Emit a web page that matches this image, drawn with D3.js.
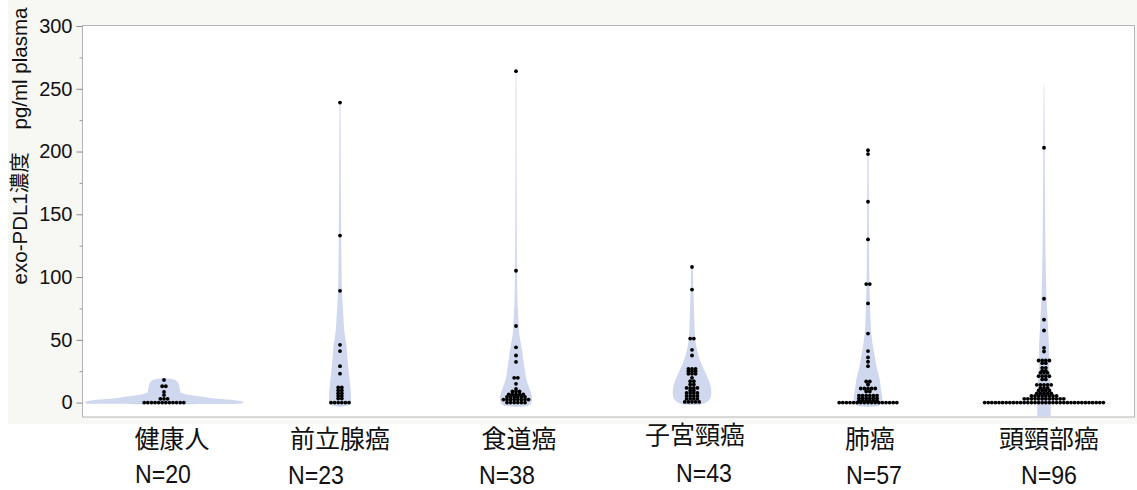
<!DOCTYPE html>
<html>
<head>
<meta charset="utf-8">
<script src="https://cdn.jsdelivr.net/npm/d3@7"></script>
<style>
  html, body { margin: 0; padding: 0; background: #ffffff; }
  svg { display: block; }
</style>
</head>
<body>
<svg id="chart" width="1137" height="490"></svg>
<script>
// Groups on the x axis
const categories = ["健康人", "前立腺癌", "食道癌", "子宮頸癌", "肺癌", "頭頸部癌"];
const yTicks = [0, 50, 100, 150, 200, 250, 300];
const yMinorTicks = [25, 75, 125, 175, 225, 275];

// exo-PDL1 concentration per subject (pg/ml plasma)
const healthy = [18, 13, 13, 8.5, 6, 3, 3, 3,
  0, 0, 0, 0, 0, 0, 0, 0, 0, 0, 0, 0];
const prostate = [239, 133, 89, 46, 41, 29, 23, 12, 12, 9.6, 9.6, 7.4, 7.4,
  5.3, 5.3, 3.2, 3.2, 0, 0, 0, 0, 0, 0];
const esophageal = [264, 105, 61, 44, 37.5, 32.4, 19.7, 19.7, 14.9, 10.9,
  8.8, 8.8, 8.8, 6.6, 6.6, 6.6, 6.6, 6.6, 4.5, 4.5, 4.5, 4.5, 4.5, 4.5,
  2.4, 2.4, 2.4, 2.4, 2.4, 2.4, 2.4, 2.4, 0, 0, 0, 0, 0, 0];
const cervical = [108, 90, 51, 51, 42, 37.5, 26.9, 26.9, 26.9, 25, 25, 25,
  22.9, 22.9, 22.9, 19.7, 17, 17, 14.4, 14.4, 11.7, 11.7, 11.7, 11.7,
  9.6, 9.6, 7.7, 7.7, 7.7, 7.7, 5.3, 5.3, 5.3, 5.3, 3, 3, 3, 3,
  0.5, 0.5, 0.5, 0.5, 0.5];
const lung = [201, 198, 160, 130, 94.4, 94.4, 79, 55, 41, 36, 32.5, 29,
  16.8, 16.8, 14.4, 11.2, 11.2, 11.2, 11.2, 11.2, 8.8, 8.8,
  5.6, 5.6, 5.6, 5.6, 5.6, 5.6, 3.4, 3.4, 3.4, 3.4, 3.4, 3.4,
  1.6, 1.6, 1.6, 1.6, 1.6, 1.6,
  0, 0, 0, 0, 0, 0, 0, 0, 0, 0, 0, 0, 0, 0, 0, 0, 0];
const headNeck = [203, 82.7, 66, 57.4, 43.6, 40.7, 33.5, 33.5, 33.5, 33.5,
  31.4, 31.4, 27.7, 27.7, 25.5, 25.5, 23.7, 23.7, 23.7, 21, 21, 21, 21,
  18.4, 18.4, 14.1, 14.1, 14.1, 14.1, 14.1, 11.7, 11.7, 11.7,
  9.6, 9.6, 9.6, 9.6, 7.4, 7.4, 7.4, 7.4, 7.4,
  5.3, 5.3, 5.3, 5.3, 5.3, 5.3, 5.3, 5.3,
  3, 3, 3, 3, 3, 3, 3, 3, 3, 3, 3, 3,
  0, 0, 0, 0, 0, 0, 0, 0, 0, 0, 0, 0, 0, 0, 0, 0, 0,
  0, 0, 0, 0, 0, 0, 0, 0, 0, 0, 0, 0, 0, 0, 0, 0, 0];

// Violin outlines: [concentration, relative density]
const healthyDensity = [[-1.4, 0], [-1, 77], [0.5, 79], [1.9, 71], [3, 54], [4.8, 37],
  [6.9, 21], [8.2, 16.5], [10, 16], [14, 15], [17, 13], [18.5, 9], [19.3, 0]];
const prostateDensity = [[-3.5, 0], [-2, 9], [0, 11], [5, 11], [15, 10], [30, 8],
  [45, 6.5], [57, 4.3], [70, 3.3], [88, 2], [110, 1.5], [133, 1.2], [180, 0.8],
  [238, 0.5], [240, 0]];
const esophagealDensity = [[-3.5, 0], [-2.5, 12], [0, 15.5], [4, 16], [10, 14],
  [17, 11], [30, 8], [42, 6], [57, 3], [61, 2.8], [80, 1.5], [105, 1], [150, 0.7],
  [200, 0.5], [264, 0.4], [266, 0]];
const cervicalDensity = [[-2, 0], [-1.5, 8], [0, 14], [2, 17], [5, 19], [8, 19.3],
  [12, 18.8], [16, 17.5], [22, 14.5], [28, 11], [35, 7.5], [42, 5], [55, 2.8],
  [70, 2.2], [81, 1.8], [95, 1.2], [108, 0.8], [110, 0]];
const lungDensity = [[-3.5, 0], [-2.5, 11], [0, 14], [4, 14.2], [10, 13], [17, 12],
  [28, 8.8], [40, 6], [55, 3.3], [80, 2], [95, 1.5], [130, 1], [160, 0.8],
  [201, 0.6], [203, 0]];
const headNeckDensity = [[-20, 6.7], [0, 6.7], [5, 6.7], [15, 6.2], [30, 5.2],
  [44, 5], [57, 4.2], [84, 2.5], [120, 1.5], [160, 1], [203, 0.7], [250, 0.3],
  [255, 0]];

const groups = [
  { name: categories[0], values: healthy, density: healthyDensity },
  { name: categories[1], values: prostate, density: prostateDensity },
  { name: categories[2], values: esophageal, density: esophagealDensity },
  { name: categories[3], values: cervical, density: cervicalDensity },
  { name: categories[4], values: lung, density: lungDensity },
  { name: categories[5], values: headNeck, density: headNeckDensity }
];

const W = 1137, H = 490;
const plot = { left: 82.5, right: 1134.5, top: 25.5, bottom: 417 };

const svg = d3.select("#chart");

const x = d3.scaleBand().domain(categories).range([76, 1132]).padding(0);
const y = d3.scaleLinear().domain([-11.5, 300]).range([plot.bottom, 26]);
const halfWidth = d3.scaleLinear().domain([0, 80]).range([0, x.bandwidth() * 0.455]);

// Panel background and plot frame
svg.append("rect").attr("x", 8).attr("y", 0).attr("width", W - 8).attr("height", 424)
  .attr("fill", "#f7f7f3");
svg.append("rect")
  .attr("x", plot.left).attr("y", plot.top)
  .attr("width", plot.right - plot.left).attr("height", plot.bottom - plot.top)
  .attr("fill", "#ffffff").attr("stroke", "#b4b4b4").attr("stroke-width", 1);

svg.append("clipPath").attr("id", "plot-clip")
  .append("rect")
  .attr("x", plot.left + 0.5).attr("y", plot.top + 0.5)
  .attr("width", plot.right - plot.left - 1).attr("height", plot.bottom - plot.top - 1);

// Y axis
const yAxis = d3.axisLeft(y).tickValues(yTicks).tickSize(6).tickPadding(4)
  .tickFormat(d3.format("d"));
const gy = svg.append("g").attr("transform", `translate(${plot.left},0)`).call(yAxis);
gy.select(".domain").remove();
gy.selectAll(".tick line").attr("stroke", "#8a8a8a");
gy.selectAll(".tick text")
  .attr("fill", "#111111")
  .style("font-family", "'Liberation Sans', Arial, Helvetica, sans-serif")
  .style("font-size", "20px");

const yMinor = d3.axisLeft(y).tickValues(yMinorTicks).tickSize(3).tickFormat("");
const gym = svg.append("g").attr("transform", `translate(${plot.left},0)`).call(yMinor);
gym.select(".domain").remove();
gym.selectAll(".tick line").attr("stroke", "#9a9a9a");

// Y axis title
svg.append("text")
  .attr("transform", `translate(27, ${146}) rotate(-90)`)
  .attr("text-anchor", "middle")
  .attr("fill", "#111111")
  .style("font-family", "'Liberation Sans', Arial, 'Noto Sans CJK JP', sans-serif")
  .style("font-size", "20.5px")
  .style("white-space", "pre")
  .text("exo-PDL1濃度    pg/ml plasma");

// Violins and dots
const chartArea = svg.append("g").attr("clip-path", "url(#plot-clip)");

const dotR = 1.9;
const dotGap = 3.6;

groups.forEach(g => {
  const cx = x(g.name) + x.bandwidth() / 2;
  const area = d3.area()
    .curve(d3.curveMonotoneY)
    .y(d => y(d[0]))
    .x0(d => cx - halfWidth(d[1]))
    .x1(d => cx + halfWidth(d[1]));
  chartArea.append("path")
    .datum(g.density)
    .attr("d", area)
    .attr("fill", "#d0d8ef");

  // dots sharing a value sit side by side, centred on the group
  const rows = d3.group(g.values, v => v);
  const pts = [];
  rows.forEach((vals, v) => {
    vals.forEach((_, j) => {
      pts.push({ v: v, dx: (j - (vals.length - 1) / 2) * dotGap });
    });
  });
  chartArea.append("g").selectAll("circle")
    .data(pts)
    .join("circle")
    .attr("cx", d => cx + d.dx)
    .attr("cy", d => y(d.v))
    .attr("r", dotR)
    .attr("fill", "#000000");
});

// Category labels and group sizes
const labelFont = "'Noto Sans CJK JP', 'Noto Sans CJK SC', sans-serif";
const labelOffsets = [8, 0, 3, 3, 2, 5];
const nOffsets = [[-1, 483], [-24, 484], [-9, 484], [12, 482], [6, 484], [5, 484]];

svg.append("g").selectAll("text.cat")
  .data(groups)
  .join("text")
  .attr("class", "cat")
  .attr("x", (d, i) => x(d.name) + x.bandwidth() / 2 + labelOffsets[i])
  .attr("y", (d, i) => i === 3 ? 437 : 441)
  .attr("text-anchor", "middle")
  .attr("dominant-baseline", "middle")
  .attr("fill", "#111111")
  .style("font-family", labelFont)
  .style("font-size", "25px")
  .text(d => d.name);

svg.append("g").selectAll("text.n")
  .data(groups)
  .join("text")
  .attr("class", "n")
  .attr("x", (d, i) => x(d.name) + x.bandwidth() / 2 + nOffsets[i][0])
  .attr("y", (d, i) => nOffsets[i][1])
  .attr("text-anchor", "middle")
  .attr("textLength", 56)
  .attr("lengthAdjust", "spacingAndGlyphs")
  .attr("fill", "#111111")
  .style("font-family", "'Liberation Sans', Arial, sans-serif")
  .style("font-size", "25px")
  .text(d => "N=" + d.values.length);
</script>
</body>
</html>
